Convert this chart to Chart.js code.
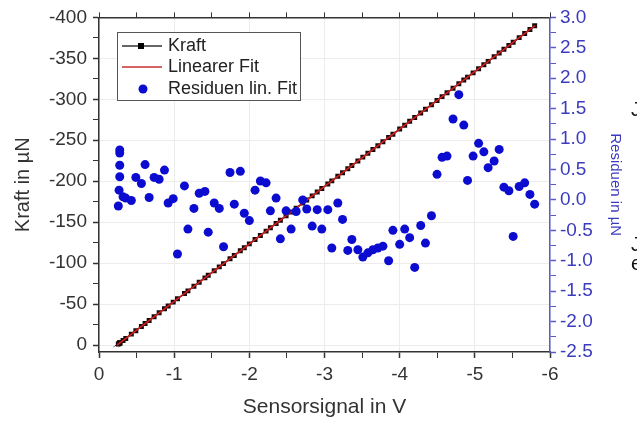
<!DOCTYPE html>
<html>
<head>
<meta charset="utf-8">
<script src="https://cdn.jsdelivr.net/npm/chart.js@4.4.1/dist/chart.umd.min.js"></script>
<style>
  html, body { margin: 0; padding: 0; background: #fff; }
  canvas { display: block; }
</style>
</head>
<body>
<canvas id="chart" width="637" height="421"></canvas>
<script>
// Sensorsignal (V) of every measurement
const sensorV = [-0.276, -0.276, -0.276, -0.276, -0.267, -0.257, -0.32, -0.356, -0.43, -0.49,
  -0.564, -0.613, -0.667, -0.733, -0.80, -0.871, -0.92, -0.987, -1.044, -1.137,
  -1.183, -1.263, -1.333, -1.409, -1.453, -1.533, -1.60, -1.657, -1.743, -1.80,
  -1.88, -1.933, -2.0, -2.076, -2.147, -2.223, -2.28, -2.356, -2.413, -2.489,
  -2.556, -2.623, -2.71, -2.764, -2.836, -2.903, -2.964, -3.044, -3.097, -3.177,
  -3.24, -3.31, -3.364, -3.444, -3.51, -3.577, -3.644, -3.71, -3.777, -3.853,
  -3.91, -4.0, -4.067, -4.133, -4.2, -4.28, -4.343, -4.423, -4.497, -4.564,
  -4.63, -4.71, -4.787, -4.853, -4.903, -4.977, -5.05, -5.12, -5.177, -5.257,
  -5.324, -5.387, -5.453, -5.51, -5.59, -5.663, -5.733, -5.796];

// Kraft (µN)
const kraft = [-2.5, -2.5, -2.5, -2.5, -1.9, -1.2, -5.6, -8.1, -13.3, -17.5,
  -22.7, -26.2, -30.0, -34.6, -39.3, -44.3, -47.7, -52.4, -56.4, -62.9,
  -66.1, -71.8, -76.7, -82.0, -85.1, -90.7, -95.4, -99.4, -105.4, -109.4,
  -115.0, -118.8, -123.5, -128.8, -133.8, -139.1, -143.1, -148.4, -152.4, -157.8,
  -162.4, -167.1, -173.3, -177.0, -182.1, -186.8, -191.1, -196.7, -200.4, -206.0,
  -210.4, -215.3, -219.1, -224.7, -229.4, -234.1, -238.8, -243.4, -248.1, -253.4,
  -257.4, -263.7, -268.4, -273.1, -277.8, -283.4, -287.8, -293.4, -298.6, -303.3,
  -307.9, -313.5, -318.9, -323.6, -327.1, -332.3, -337.4, -342.3, -346.3, -351.9,
  -356.6, -361.0, -365.6, -369.6, -375.3, -380.4, -385.3, -389.7];

// Residuen lin. Fit (µN)
const residuen = [0.82, 0.77, 0.57, 0.38, 0.16, -0.10, 0.05, 0.03, -0.01, 0.37,
  0.27, 0.58, 0.04, 0.37, 0.34, 0.49, -0.05, 0.02, -0.89, 0.23,
  -0.48, -0.14, 0.11, 0.14, -0.53, -0.05, -0.14, -0.77, 0.45, -0.07,
  0.47, -0.22, -0.34, 0.16, 0.31, 0.28, -0.18, 0.03, -0.64, -0.18,
  -0.48, -0.19, 0.0, -0.15, -0.43, -0.16, -0.48, -0.16, -0.79, -0.05,
  -0.32, -0.83, -0.65, -0.82, -0.94, -0.87, -0.82, -0.79, -0.76, -1.00,
  -0.50, -0.73, -0.48, -0.62, -1.11, -0.42, -0.71, -0.26, 0.42, 0.70,
  0.72, 1.33, 1.73, 1.23, 0.32, 0.72, 0.93, 0.79, 0.53, 0.64,
  0.83, 0.21, 0.15, -0.60, 0.22, 0.28, 0.09, -0.07];

// Linearer Fit, end points
const fitX = [-0.24, -5.8];
const fitY = [0, -390];

// ticks
const xMajor = [0, -1, -2, -3, -4, -5, -6];
const xMinor = [-0.5, -1.5, -2.5, -3.5, -4.5, -5.5];
const kraftMajor = [0, -50, -100, -150, -200, -250, -300, -350, -400];
const kraftMinor = [-25, -75, -125, -175, -225, -275, -325, -375];
const resMajor = [-2.5, -2.0, -1.5, -1.0, -0.5, 0.0, 0.5, 1.0, 1.5, 2.0, 2.5, 3.0];
const resMinor = [-2.25, -1.75, -1.25, -0.75, -0.25, 0.25, 0.75, 1.25, 1.75, 2.25, 2.75];

const BLUE = '#3b3bbd';
const AXIS = '#333';
const GRID = '#ececec';
const FONT = '"Liberation Sans", Arial, sans-serif';

function pts(xs, ys) { return xs.map((x, i) => ({ x: x, y: ys[i] })); }
function setTicks(major, minor) {
  return axis => { axis.ticks = major.concat(minor).sort((a, b) => a - b).map(v => ({ value: v })); };
}
function isIn(list, v) { return list.some(m => Math.abs(m - v) < 1e-9); }

const legendBox = {
  id: 'legendBox',
  afterDraw(chart) {
    const ctx = chart.ctx;
    const ds = chart.data.datasets;
    ctx.save();
    ctx.fillStyle = '#fff';
    ctx.fillRect(117, 32, 183, 68);
    ctx.strokeStyle = '#555';
    ctx.lineWidth = 1;
    ctx.strokeRect(117.5, 32.5, 183, 68);
    ctx.font = '18px ' + FONT;
    ctx.textBaseline = 'middle';
    // Kraft
    ctx.strokeStyle = '#333'; ctx.lineWidth = 1.5;
    ctx.beginPath(); ctx.moveTo(122, 46); ctx.lineTo(162, 46); ctx.stroke();
    ctx.fillStyle = '#000'; ctx.fillRect(138, 43, 6, 6);
    ctx.fillStyle = '#222'; ctx.fillText(ds[0].label, 168, 46);
    // Fit
    ctx.strokeStyle = '#c83030'; ctx.lineWidth = 1.5;
    ctx.beginPath(); ctx.moveTo(122, 67); ctx.lineTo(162, 67); ctx.stroke();
    ctx.fillText(ds[1].label, 168, 67);
    // Residuen
    ctx.fillStyle = '#0c0cd0';
    ctx.beginPath(); ctx.arc(143, 89, 4.5, 0, Math.PI * 2); ctx.fill();
    ctx.fillStyle = '#222'; ctx.fillText(ds[2].label, 168, 89);
    // cut-off letters at the right edge of the page
    ctx.font = '20px ' + FONT;
    ctx.fillStyle = '#111';
    ctx.fillText('J', 631, 110);
    ctx.fillText('J', 631, 245);
    ctx.fillText('e', 631, 264);
    ctx.restore();
  }
};

new Chart(document.getElementById('chart'), {
  type: 'scatter',
  data: {
    datasets: [
      {
        label: 'Kraft',
        data: pts(sensorV, kraft),
        yAxisID: 'y',
        showLine: true,
        borderColor: '#222',
        borderWidth: 1.5,
        pointStyle: 'rect',
        pointRadius: 3.5,
        pointBackgroundColor: '#1a0a0a',
        pointBorderColor: '#1a0a0a',
        pointBorderWidth: 0,
        order: 2
      },
      {
        label: 'Linearer Fit',
        data: pts(fitX, fitY),
        yAxisID: 'y',
        showLine: true,
        borderColor: '#d42020',
        borderWidth: 1.5,
        pointRadius: 0,
        order: 1
      },
      {
        label: 'Residuen lin. Fit',
        data: pts(sensorV, residuen),
        yAxisID: 'y2',
        pointRadius: 4.5,
        pointBackgroundColor: '#0c0cd0',
        pointBorderColor: '#0c0cd0',
        pointBorderWidth: 0,
        order: 0
      }
    ]
  },
  options: {
    responsive: false,
    animation: false,
    devicePixelRatio: 1,
    layout: { padding: 0 },
    plugins: { legend: { display: false }, tooltip: { enabled: false } },
    scales: {
      x: {
        type: 'linear', position: 'bottom', min: -6, max: 0, reverse: true,
        afterBuildTicks: setTicks(xMajor, xMinor),
        afterFit: a => { a.height = 69; },
        ticks: {
          autoSkip: false, maxRotation: 0, padding: 5, color: AXIS,
          font: { family: FONT, size: 19 },
          callback: v => isIn(xMajor, v) ? String(v) : ''
        },
        grid: {
          color: c => isIn(xMajor, c.tick.value) ? GRID : 'rgba(0,0,0,0)',
          tickColor: AXIS, tickLength: 6,
          tickWidth: c => isIn(xMajor, c.tick.value) ? 1.5 : 1
        },
        border: { color: AXIS, width: 1.5 },
        title: {
          display: true, text: 'Sensorsignal in V', color: AXIS,
          font: { family: FONT, size: 21 },
          padding: { top: 0, bottom: 1 }
        }
      },
      x2: {
        type: 'linear', position: 'top', min: -6, max: 0, reverse: true,
        afterBuildTicks: setTicks(xMajor, xMinor),
        afterFit: a => { a.height = 17; },
        ticks: { autoSkip: false, display: false },
        grid: { drawOnChartArea: false, tickColor: AXIS, tickLength: 5 },
        border: { color: AXIS, width: 1.5 }
      },
      y: {
        type: 'linear', position: 'left', min: -400, max: 8.5, reverse: true,
        afterBuildTicks: setTicks(kraftMajor, kraftMinor),
        afterFit: a => { a.width = 99; },
        ticks: {
          autoSkip: false, padding: 6, color: AXIS,
          font: { family: FONT, size: 19 },
          callback: v => isIn(kraftMajor, v) ? String(v) : ''
        },
        grid: {
          color: c => isIn(kraftMajor, c.tick.value) ? GRID : 'rgba(0,0,0,0)',
          tickColor: AXIS, tickLength: 6,
          tickWidth: c => isIn(kraftMajor, c.tick.value) ? 1.5 : 1
        },
        border: { color: AXIS, width: 1.5 },
        title: {
          display: true, text: 'Kraft in µN', color: AXIS,
          font: { family: FONT, size: 20 },
          padding: { top: 11, bottom: 0 }
        }
      },
      y2: {
        type: 'linear', position: 'right', min: -2.5, max: 3.0,
        afterBuildTicks: setTicks(resMajor, resMinor),
        afterFit: a => { a.width = 87; },
        ticks: {
          autoSkip: false, padding: 4, color: BLUE,
          font: { family: FONT, size: 19 },
          callback: v => isIn(resMajor, v) ? v.toFixed(1) : ''
        },
        grid: {
          drawOnChartArea: false, tickColor: '#5a5ad0', tickLength: 6,
          tickWidth: c => isIn(resMajor, c.tick.value) ? 1.5 : 1
        },
        border: { color: '#5a5ad0', width: 1.5 },
        title: {
          display: true, text: 'Residuen in µN', color: BLUE,
          font: { family: FONT, size: 15 },
          padding: { top: 13, bottom: 0 }
        }
      }
    }
  },
  plugins: [legendBox]
});
</script>
</body>
</html>
